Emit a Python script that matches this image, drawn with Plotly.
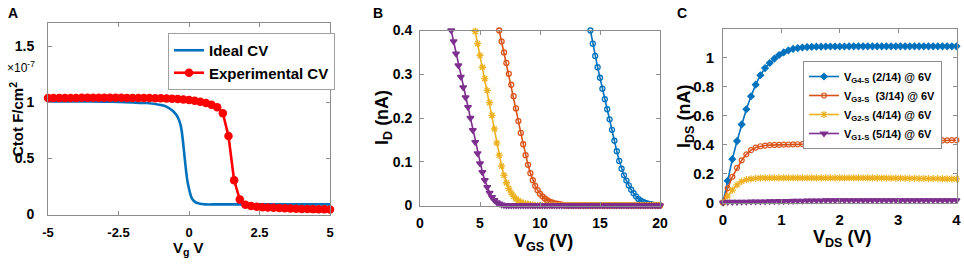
import plotly.graph_objects as go

W, H = 964, 265
FONT = "Liberation Sans"
AX = "#8c8c8c"

# ---------------- Panel A data (units of 1e-7 F/cm^2) ----------------
ideal_vg = [-5, -4, -3, -2.5, -2, -1.5, -1.0, -0.8, -0.6, -0.5, -0.4, -0.3, -0.25,
            -0.2, -0.15, -0.1, -0.05, 0.0, 0.05, 0.1, 0.2, 0.3, 0.45, 0.6, 0.8, 1.5, 5]
ideal_c = [1.01, 1.01, 1.008, 1.005, 1.0, 0.995, 0.977, 0.963, 0.93, 0.905, 0.87, 0.80, 0.73,
           0.62, 0.50, 0.38, 0.29, 0.23, 0.18, 0.145, 0.115, 0.102, 0.094, 0.09, 0.09, 0.09, 0.09]

exp_vg = [-5.0, -4.8, -4.6, -4.4, -4.2, -4.0, -3.8, -3.6, -3.4, -3.2, -3.0, -2.8, -2.6, -2.4,
          -2.2, -2.0, -1.8, -1.6, -1.4, -1.2, -1.0, -0.8, -0.6, -0.4, -0.2, 0.0, 0.2, 0.4,
          0.6, 0.8, 1.0, 1.2, 1.4, 1.6, 1.8, 2.0, 2.2, 2.4, 2.6, 2.8, 3.0, 3.2, 3.4, 3.6,
          3.8, 4.0, 4.2, 4.4, 4.6, 4.8, 5.0]
exp_c = [1.040, 1.040, 1.041, 1.041, 1.041, 1.041, 1.042, 1.042, 1.042, 1.042, 1.042, 1.042,
         1.042, 1.042, 1.041, 1.041, 1.041, 1.040, 1.040, 1.039, 1.038, 1.036, 1.034, 1.031,
         1.027, 1.022, 1.015, 1.006, 0.995, 0.980, 0.958, 0.905, 0.700, 0.305, 0.135, 0.088,
         0.075, 0.069, 0.065, 0.062, 0.060, 0.058, 0.056, 0.054, 0.052, 0.050, 0.049, 0.048,
         0.047, 0.046, 0.045]

# ---------------- Panel B data (VGS in V, ID in nA) ----------------
b_step = 0.2
g4_start = 14.2
g4_id = [0.400, 0.370, 0.342, 0.316, 0.292, 0.267, 0.243, 0.220, 0.197, 0.173, 0.148, 0.124,
         0.102, 0.084, 0.069, 0.057, 0.046, 0.036, 0.028, 0.021, 0.015, 0.011, 0.008, 0.006,
         0.004, 0.003, 0.002, 0.001, 0.0, 0.0]
g3_start = 6.6
g3_id = [0.400, 0.375, 0.350, 0.326, 0.301, 0.276, 0.250, 0.222, 0.193, 0.166, 0.140, 0.115,
         0.093, 0.074, 0.058, 0.045, 0.035, 0.027, 0.021, 0.016, 0.012, 0.009, 0.007, 0.005,
         0.004, 0.003, 0.002, 0.001] + [0.0] * 40
g2_start = 4.6
g2_id = [0.398, 0.370, 0.343, 0.316, 0.290, 0.263, 0.235, 0.206, 0.175, 0.143, 0.115, 0.090,
         0.069, 0.052, 0.039, 0.029, 0.021, 0.015, 0.011, 0.008, 0.005, 0.004, 0.003, 0.002,
         0.001] + [0.0] * 53
g1_start = 2.6
g1_id = [0.400, 0.375, 0.347, 0.320, 0.294, 0.270, 0.247, 0.225, 0.200, 0.172, 0.145, 0.119,
         0.096, 0.076, 0.058, 0.042, 0.029, 0.019, 0.012, 0.007, 0.004, 0.002, 0.001] + [0.0] * 65

# ---------------- Panel C data (VDS in V, IDS in nA) ----------------
vds = [round(0.08 * i, 2) for i in range(51)]
c_g4 = [0.000, 0.150, 0.300, 0.425, 0.540, 0.645, 0.735, 0.815, 0.880, 0.930, 0.965, 0.995,
        1.020, 1.038, 1.052, 1.062, 1.068, 1.072, 1.075, 1.077, 1.078, 1.078, 1.079, 1.079,
        1.079, 1.079, 1.079, 1.080, 1.080, 1.080, 1.080, 1.080, 1.080, 1.080, 1.080, 1.080,
        1.080, 1.080, 1.080, 1.080, 1.080, 1.080, 1.080, 1.080, 1.080, 1.080, 1.080, 1.080,
        1.080, 1.080, 1.080]
c_g3 = [0.000, 0.098, 0.178, 0.240, 0.292, 0.333, 0.362, 0.380, 0.389, 0.394, 0.397, 0.398,
        0.399, 0.400, 0.401, 0.402, 0.403, 0.404, 0.405, 0.406, 0.407, 0.408, 0.409, 0.410,
        0.411, 0.412, 0.413, 0.414, 0.415, 0.416, 0.417, 0.418, 0.419, 0.420, 0.420, 0.421,
        0.422, 0.423, 0.424, 0.425, 0.425, 0.426, 0.427, 0.428, 0.428, 0.429, 0.429, 0.430,
        0.430, 0.431, 0.431]
c_g2 = [0.000, 0.045, 0.086, 0.122, 0.146, 0.158, 0.164, 0.167, 0.169, 0.170, 0.170, 0.170,
        0.170, 0.170, 0.170, 0.170, 0.170, 0.170, 0.170, 0.170, 0.170, 0.170, 0.170, 0.170,
        0.170, 0.170, 0.170, 0.170, 0.170, 0.170, 0.170, 0.170, 0.170, 0.169, 0.169, 0.169,
        0.168, 0.168, 0.168, 0.167, 0.167, 0.167, 0.166, 0.166, 0.165, 0.165, 0.165, 0.164,
        0.164, 0.163, 0.163]
c_g1 = [0.000, 0.004, 0.004, 0.004, 0.005, 0.005, 0.006, 0.006, 0.007, 0.007, 0.008,
        0.008, 0.009, 0.009, 0.010, 0.011, 0.012, 0.012, 0.013, 0.013, 0.014, 0.014, 0.015,
        0.015, 0.015, 0.015, 0.015, 0.015, 0.015, 0.015, 0.015, 0.015, 0.015, 0.015, 0.015,
        0.015, 0.015, 0.015, 0.015, 0.015, 0.015, 0.015, 0.015, 0.015, 0.015, 0.015, 0.015,
        0.015, 0.015, 0.015, 0.015]
c_names = ["V<sub>G4-S</sub> (2/14) @ 6V", "V<sub>G3-S</sub>  (3/14) @ 6V",
           "V<sub>G2-S</sub> (4/14) @ 6V", "V<sub>G1-S</sub> (5/14) @ 6V"]

BLUE, ORANGE, YELLOW, PURPLE, RED = "#0072BD", "#D95319", "#EDB120", "#7E2F8E", "#FF0000"


def xs(start, n):
    return [round(start + b_step * i, 3) for i in range(n)]


def PX(p):
    return p / W


def PY(p):
    return 1 - p / H


fig = go.Figure()

# Panel A
fig.add_trace(go.Scatter(x=ideal_vg, y=ideal_c, mode="lines", name="Ideal CV",
                         line=dict(color=BLUE, width=2.6, shape="spline", smoothing=0.6),
                         xaxis="x", yaxis="y", legend="legend", cliponaxis=False))
fig.add_trace(go.Scatter(x=exp_vg, y=exp_c, mode="lines+markers", name="Experimental CV",
                         line=dict(color=RED, width=2.6), marker=dict(symbol="circle", size=8.5, color=RED),
                         xaxis="x", yaxis="y", legend="legend", cliponaxis=False))

# Panel B
b_series = [(g4_start, g4_id, BLUE, "circle-open", 5),
            (g3_start, g3_id, ORANGE, "circle-open", 5),
            (g2_start, g2_id, YELLOW, "asterisk-open", 6),
            (g1_start, g1_id, PURPLE, "triangle-down", 6)]
for st, ys, col, sym, sz in b_series:
    fig.add_trace(go.Scatter(x=xs(st, len(ys)), y=ys, mode="lines+markers", showlegend=False,
                             line=dict(color=col, width=1.6),
                             marker=dict(symbol=sym, size=sz, color=col, line=dict(color=col, width=1.3)),
                             xaxis="x2", yaxis="y2", cliponaxis=False))

# Panel C
c_series = [(c_g4, BLUE, "diamond", 5), (c_g3, ORANGE, "circle-open", 5),
            (c_g2, YELLOW, "asterisk-open", 6), (c_g1, PURPLE, "triangle-down", 6)]
for (ys, col, sym, sz), nm in zip(c_series, c_names):
    fig.add_trace(go.Scatter(x=vds, y=ys, mode="lines+markers", name=nm,
                             line=dict(color=col, width=1.6),
                             marker=dict(symbol=sym, size=sz, color=col, line=dict(color=col, width=1.2)),
                             xaxis="x3", yaxis="y3", legend="legend2", cliponaxis=False))


def axis(domain, rng, tickvals, ticktext, anchor, size=14, standoff=4):
    return dict(domain=domain, range=rng, tickvals=tickvals, ticktext=ticktext, anchor=anchor,
                showline=True, linecolor=AX, linewidth=1, mirror="allticks", ticks="inside",
                ticklen=4, tickcolor=AX, showgrid=False, zeroline=False, fixedrange=True,
                automargin=False, ticklabelstandoff=standoff,
                tickfont=dict(family=FONT, size=size, color="black", weight="bold"))


fig.update_layout(
    template="none",
    width=W, height=H, margin=dict(l=0, r=0, t=0, b=0, pad=0), autosize=False,
    paper_bgcolor="white", plot_bgcolor="white",
    xaxis=axis([PX(48), PX(330)], [-5, 5], [-5, -2.5, 0, 2.5, 5], ["-5", "-2.5", "0", "2.5", "5"], "y", 13, 6),
    yaxis=axis([PY(214.5), PY(23)], [0, 1.71], [0, 0.5, 1, 1.5], ["0", "0.5", "1", "1.5"], "x", 14, 10),
    xaxis2=axis([PX(420), PX(660)], [0, 20], [0, 5, 10, 15, 20], ["0", "5", "10", "15", "20"], "y2", 14, 5),
    yaxis2=axis([PY(205.5), PY(30.5)], [0, 0.4], [0, 0.1, 0.2, 0.3, 0.4],
                ["0", "0.1", "0.2", "0.3", "0.4"], "x2", 14, 4),
    xaxis3=axis([PX(723), PX(956.5)], [0, 4], [0, 1, 2, 3, 4], ["0", "1", "2", "3", "4"], "y3", 15, 3),
    yaxis3=axis([PY(202.5), PY(29)], [0, 1.2], [0, 0.2, 0.4, 0.6, 0.8, 1],
                ["0", "0.2", "0.4", "0.6", "0.8", "1"], "x3", 15, 5),
    legend=dict(x=PX(168), y=PY(33), xanchor="left", yanchor="top", bgcolor="white",
                bordercolor="#a0a0a0", borderwidth=1, itemwidth=30, tracegroupgap=0,
                font=dict(family=FONT, size=15, color="black", weight="bold")),
    legend2=dict(x=PX(803), y=PY(61), xanchor="left", yanchor="top", bgcolor="white",
                 bordercolor="#8c8c8c", borderwidth=1, itemwidth=30, tracegroupgap=0,
                 font=dict(family=FONT, size=11, color="black", weight="bold")),
)


def ann(text, x, y, size, angle=0, weight="bold"):
    fig.add_annotation(text=text, x=PX(x), y=PY(y), xref="paper", yref="paper",
                       showarrow=False, xanchor="center", yanchor="middle", textangle=angle,
                       font=dict(family=FONT, size=size, color="black", weight=weight))


ann("A", 13, 13, 14)
ann("B", 378, 13, 14)
ann("C", 682, 13, 14)
ann("Ctot F/cm<sup>2</sup>", 16, 120, 15, -90)
ann("V<sub>g</sub> V", 188, 248, 15)
ann("×10<sup>-7</sup>", 21, 67, 12, 0, "normal")
ann("I<sub>D</sub> (nA)", 383, 118, 18, -90)
ann("V<sub>GS</sub> (V)", 543, 242, 18)
ann("I<sub>DS</sub> (nA)", 685, 116, 18, -90)
ann("V<sub>DS</sub> (V)", 842, 238, 18)

fig.write_html("out.html", config={"displayModeBar": False},
               post_script="document.body.style.margin='0';document.body.style.overflow='hidden';")
